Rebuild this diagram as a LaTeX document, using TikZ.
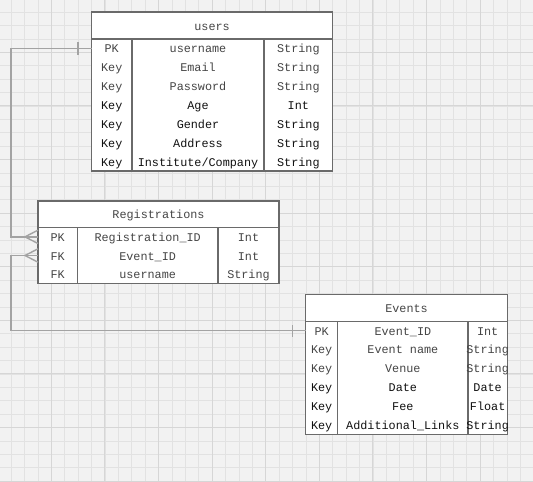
\documentclass[tikz,border=0pt]{standalone}
\usepackage{fontspec}
\setmainfont{Liberation Mono}
\definecolor{bgc}{HTML}{F2F2F2}
\definecolor{gmin}{HTML}{E2E2E2}
\definecolor{gmaj}{HTML}{D6D6D6}
\definecolor{boxc}{HTML}{6A6A6A}
\definecolor{linec}{HTML}{A3A3A3}
\definecolor{lt}{HTML}{454545}
\definecolor{dk}{HTML}{111111}
\tikzset{
  cellbox/.style={draw=boxc, line width=1.3pt, fill=white, inner sep=0pt, outer sep=0pt},
  txt/.style={inner sep=0pt, font=\fontsize{11.8}{14}\selectfont, text=lt, anchor=center, text height=9.7pt, text depth=0.7pt},
  conn/.style={draw=linec, line width=1.4pt},
}
\begin{document}
\begin{tikzpicture}[x=1pt,y=-1pt]
\useasboundingbox (0,0) rectangle (533,482);
\fill[bgc] (0,0) rectangle (533,482);
% grid
\foreach \k in {0,...,39} {
  \draw[gmin, line width=0.8pt] ({11.1+13.4*\k},0) -- ({11.1+13.4*\k},482);
  \draw[gmin, line width=0.8pt] (0,{12.1+13.4*\k}) -- (533,{12.1+13.4*\k});
}
\foreach \k in {-1,...,10} {
  \draw[gmaj, line width=0.9pt] ({51.3+53.6*\k},0) -- ({51.3+53.6*\k},482);
  \draw[gmaj, line width=0.9pt] (0,{52.3+53.6*\k}) -- (533,{52.3+53.6*\k});
}
% ---------------- users ----------------
\node[cellbox, minimum width=241.2pt, minimum height=27pt] (u-h) at (212.1,25.5) {};
\node[txt] (u-ht) at (u-h.center) {users};
\node[cellbox, minimum width=40.5pt, minimum height=132pt] (u-c1) at (111.75,105) {};
\node[cellbox, minimum width=132pt, minimum height=132pt] (u-c2) at (198,105) {};
\node[cellbox, minimum width=68.7pt, minimum height=132pt] (u-c3) at (298.35,105) {};
\foreach \a/\b/\c/\col [count=\i] in {PK/username/String/lt, Key/Email/String/lt, Key/Password/String/lt, Key/Age/Int/dk, Key/Gender/String/dk, Key/Address/String/dk, Key/{Institute/Company}/String/dk} {
  \node[txt, text=\col] (u-k\i) at (111.75,{39+18.857*(\i-0.5)}) {\a};
  \node[txt, text=\col] (u-n\i) at (198,{39+18.857*(\i-0.5)}) {\b};
  \node[txt, text=\col] (u-t\i) at (298.35,{39+18.857*(\i-0.5)}) {\c};
}
% ---------------- Registrations ----------------
\node[cellbox, minimum width=241pt, minimum height=26.5pt] (r-h) at (158.5,214.25) {};
\node[txt] (r-ht) at (r-h.center) {Registrations};
\node[cellbox, minimum width=39.3pt, minimum height=56pt] (r-c1) at (57.65,255.5) {};
\node[cellbox, minimum width=140.7pt, minimum height=56pt] (r-c2) at (147.65,255.5) {};
\node[cellbox, minimum width=61pt, minimum height=56pt] (r-c3) at (248.5,255.5) {};
\foreach \a/\b/\c [count=\i] in {PK/Registration\_ID/Int, FK/Event\_ID/Int, FK/username/String} {
  \node[txt] (r-k\i) at (57.65,{227.5+18.667*(\i-0.5)}) {\a};
  \node[txt] (r-n\i) at (147.65,{227.5+18.667*(\i-0.5)}) {\b};
  \node[txt] (r-t\i) at (248.5,{227.5+18.667*(\i-0.5)}) {\c};
}
% ---------------- Events ----------------
\node[cellbox, minimum width=201.6pt, minimum height=26.7pt] (e-h) at (406.5,307.85) {};
\node[txt] (e-ht) at (e-h.center) {Events};
\node[cellbox, minimum width=32pt, minimum height=113pt] (e-c1) at (321.7,377.7) {};
\node[cellbox, minimum width=130.3pt, minimum height=113pt] (e-c2) at (402.85,377.7) {};
\node[cellbox, minimum width=39.3pt, minimum height=113pt] (e-c3) at (487.65,377.7) {};
\foreach \a/\b/\c/\col [count=\i] in {PK/Event\_ID/Int/lt, Key/Event name/String/lt, Key/Venue/String/lt, Key/Date/Date/dk, Key/Fee/Float/dk, Key/Additional\_Links/String/dk} {
  \node[txt, text=\col] (e-k\i) at (321.7,{321.2+18.83*(\i-0.5)}) {\a};
  \node[txt, text=\col] (e-n\i) at (402.85,{321.2+18.83*(\i-0.5)}) {\b};
  \node[txt, text=\col] (e-t\i) at (487.65,{321.2+18.83*(\i-0.5)}) {\c};
}
% ---------------- connectors ----------------
\coordinate (bend) at (11,0);
\coordinate (uend) at (u-c1.west |- u-k1);
\coordinate (rend1) at (r-c1.west |- r-k1);
\coordinate (rend2) at (r-c1.west |- r-k2);
\coordinate (eend) at (e-c1.west |- e-k1);
\draw[conn] (uend) -- (bend |- uend) -- (bend |- rend1) -- (rend1);
\draw[conn] (eend) -- (bend |- eend) -- (bend |- rend2) -- (rend2);
% one (tick) marks
\draw[conn] ([xshift=-13.5pt,yshift=-6.3pt]uend) -- ([xshift=-13.5pt,yshift=6.3pt]uend);
\draw[conn] ([xshift=-13pt,yshift=-6pt]eend) -- ([xshift=-13pt,yshift=6pt]eend);
% crow's feet
\draw[conn] ([yshift=-6.7pt]rend1) -- ([xshift=-13pt]rend1) -- ([yshift=6.7pt]rend1);
\draw[conn] ([yshift=-6.7pt]rend2) -- ([xshift=-13pt]rend2) -- ([yshift=6.7pt]rend2);
\end{tikzpicture}
\end{document}
